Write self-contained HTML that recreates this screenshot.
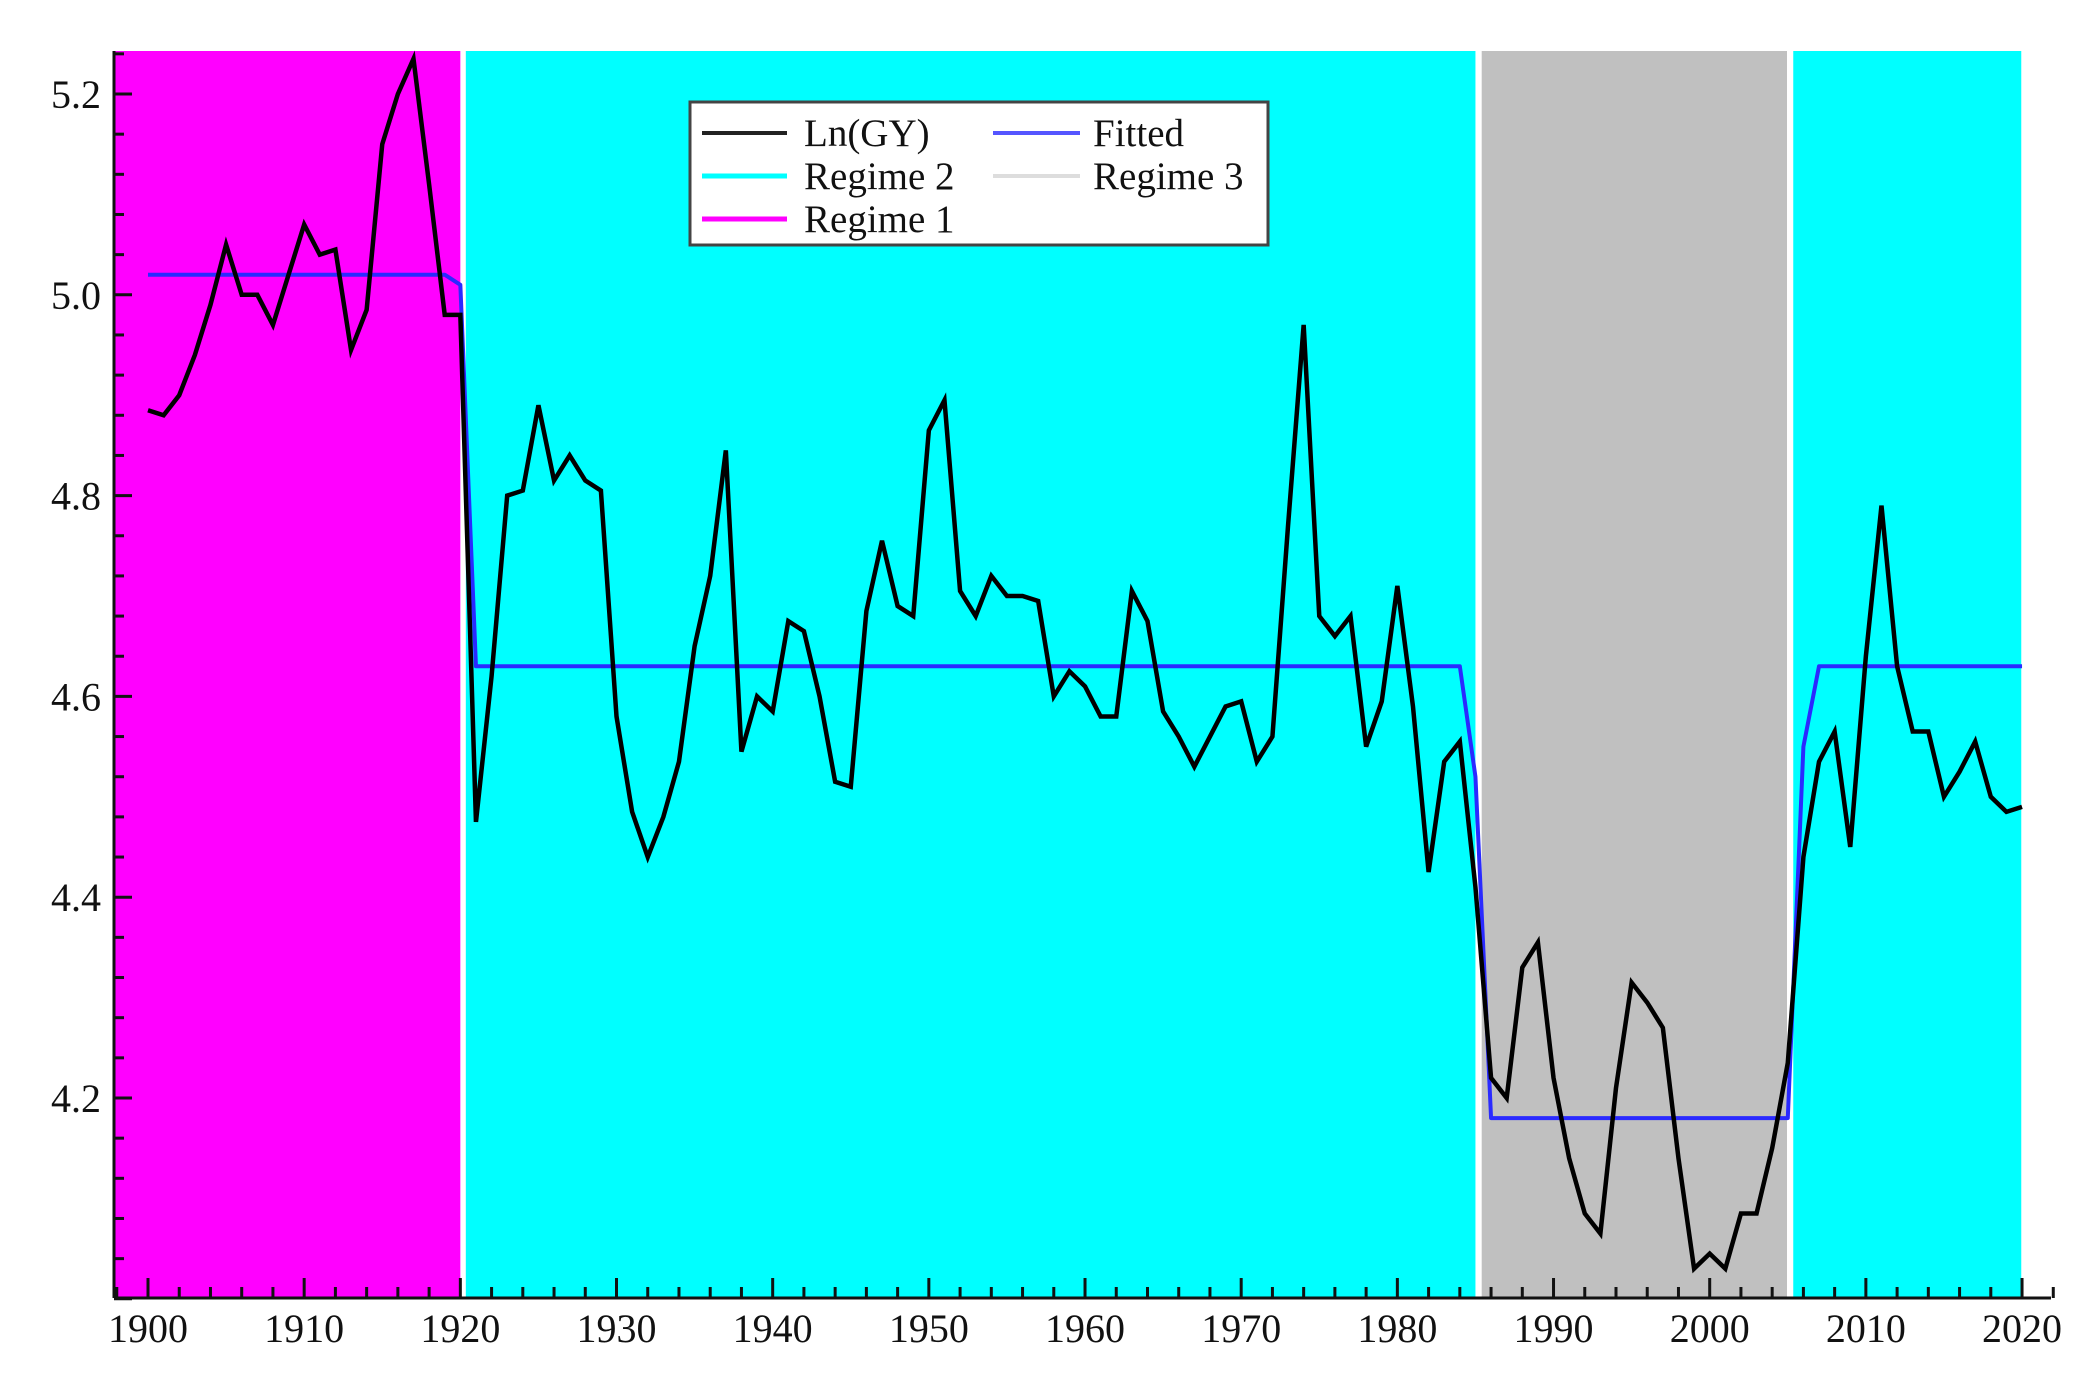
<!DOCTYPE html>
<html><head><meta charset="utf-8"><style>
html,body{margin:0;padding:0;background:#fff;}
svg{display:block;}
text{font-family:"Liberation Serif",serif;fill:#111;}
</style></head><body>
<svg id="chart" width="2098" height="1385" viewBox="0 0 2098 1385" xmlns="http://www.w3.org/2000/svg">
<g id="regions"></g>
<g id="axes"></g>
<g id="series"></g>
<g id="legend">
  <rect x="690" y="102" width="578" height="143" fill="#fff" stroke="#444" stroke-width="3"/>
  <line x1="702" y1="133" x2="787" y2="133" stroke="#222" stroke-width="4"/>
  <text x="804" y="146" font-size="39">Ln(GY)</text>
  <line x1="702" y1="176" x2="787" y2="176" stroke="#00ffff" stroke-width="5"/>
  <text x="804" y="189" font-size="39">Regime 2</text>
  <line x1="702" y1="219" x2="787" y2="219" stroke="#ff00ff" stroke-width="5"/>
  <text x="804" y="232" font-size="39">Regime 1</text>
  <line x1="993" y1="133" x2="1080" y2="133" stroke="#5555ff" stroke-width="4"/>
  <text x="1093" y="146" font-size="39">Fitted</text>
  <line x1="993" y1="176" x2="1080" y2="176" stroke="#dddddd" stroke-width="4"/>
  <text x="1093" y="189" font-size="39">Regime 3</text>
</g>
</svg>
<script>
const years = [];
for (let y = 1900; y <= 2020; y++) years.push(y);
const lngy = [4.885,4.88,4.90,4.94,4.99,5.05,5.00,5.00,4.97,5.02,5.07,5.04,5.045,4.945,4.985,5.15,5.20,5.235,5.11,4.98,
4.98,4.475,4.62,4.80,4.805,4.89,4.815,4.84,4.815,4.805,4.58,4.485,4.44,4.48,4.535,4.65,4.72,4.845,4.545,4.60,
4.585,4.675,4.665,4.60,4.515,4.51,4.685,4.755,4.69,4.68,4.865,4.895,4.705,4.68,4.72,4.70,4.70,4.695,4.60,4.625,
4.61,4.58,4.58,4.705,4.675,4.585,4.56,4.53,4.56,4.59,4.595,4.535,4.56,4.77,4.97,4.68,4.66,4.68,4.55,4.595,
4.71,4.59,4.425,4.535,4.555,4.41,4.22,4.20,4.33,4.355,4.22,4.14,4.085,4.065,4.21,4.315,4.295,4.27,4.14,4.03,
4.045,4.03,4.085,4.085,4.15,4.235,4.44,4.535,4.565,4.45,4.64,4.79,4.63,4.565,4.565,4.50,4.525,4.555,4.50,4.485,4.49];
const fitted = [5.02,5.02,5.02,5.02,5.02,5.02,5.02,5.02,5.02,5.02,5.02,5.02,5.02,5.02,5.02,5.02,5.02,5.02,5.02,5.02,
5.01,4.63,4.63,4.63,4.63,4.63,4.63,4.63,4.63,4.63,4.63,4.63,4.63,4.63,4.63,4.63,4.63,4.63,4.63,4.63,
4.63,4.63,4.63,4.63,4.63,4.63,4.63,4.63,4.63,4.63,4.63,4.63,4.63,4.63,4.63,4.63,4.63,4.63,4.63,4.63,
4.63,4.63,4.63,4.63,4.63,4.63,4.63,4.63,4.63,4.63,4.63,4.63,4.63,4.63,4.63,4.63,4.63,4.63,4.63,4.63,
4.63,4.63,4.63,4.63,4.63,4.52,4.18,4.18,4.18,4.18,4.18,4.18,4.18,4.18,4.18,4.18,4.18,4.18,4.18,4.18,
4.18,4.18,4.18,4.18,4.18,4.18,4.55,4.63,4.63,4.63,4.63,4.63,4.63,4.63,4.63,4.63,4.63,4.63,4.63,4.63,4.63];
const regimeStart = [1897.85, 1920.35, 1985.4, 2005.35];
const regimeEnd = [1920.0, 1985.0, 2004.95, 2019.95];
const regimeColor = ["#ff00ff","#00ffff","#c0c0c0","#00ffff"];
const regimeName = ["regime-1-band","regime-2-band","regime-3-band","regime-2-band-late"];
const yTicks = [4.2,4.4,4.6,4.8,5.0,5.2];
const yTickLabels = ["4.2","4.4","4.6","4.8","5.0","5.2"];
const xTicks = [1900,1910,1920,1930,1940,1950,1960,1970,1980,1990,2000,2010,2020];

const NS = "http://www.w3.org/2000/svg";
const L = 114, R = 2051, T = 51, B = 1298;
function xs(yr){ return 148 + (yr - 1900) * 15.617; }
function ys(v){ return 94 + (5.2 - v) * 1004; }
function mk(tag, attrs, parent){ const e = document.createElementNS(NS, tag); for (const k in attrs) e.setAttribute(k, attrs[k]); parent.appendChild(e); return e; }

const reg = document.getElementById('regions');
regimeStart.forEach((s,i)=>{
  const r = mk('rect',{x:xs(s),y:T,width:xs(regimeEnd[i])-xs(s),height:B-T,fill:regimeColor[i]},reg);
  
  
});

const ax = document.getElementById('axes');
let a = mk('line',{x1:L,y1:T,x2:L,y2:B,stroke:'#111','stroke-width':3},ax);


a = mk('line',{x1:L,y1:B,x2:R,y2:B,stroke:'#111','stroke-width':3},ax);


for (let k = 0; k <= 31; k++){
  const v = 4.0 + k*0.04; if (v > 5.245) break;
  const major = Math.abs((v*10)%2) < 0.01 || Math.abs((v*10)%2-2) < 0.01;
  const t = mk('line',{x1:L,y1:ys(v),x2:L+(major?18:10),y2:ys(v),stroke:'#111','stroke-width':3},ax);
  
  
}
yTicks.forEach((v,i)=>{
  const t = mk('text',{x:101,y:ys(v)+14,'text-anchor':'end','font-size':40},ax);
  t.textContent = yTickLabels[i];
  
  
});
for (let yr = 1898; yr <= 2022; yr += 2){
  const major = yr % 10 === 0;
  const t = mk('line',{x1:xs(yr),y1:B,x2:xs(yr),y2:B-(major?20:11),stroke:'#111','stroke-width':3},ax);
  
  
}
xTicks.forEach(yr=>{
  const t = mk('text',{x:xs(yr),y:1342,'text-anchor':'middle','font-size':40},ax);
  t.textContent = String(yr);
  
  
});

const se = document.getElementById('series');
let p = mk('polyline',{points:years.map((y,i)=>xs(y)+','+ys(fitted[i])).join(' '),fill:'none',stroke:'#2a2aff','stroke-width':4,'stroke-linejoin':'round'},se);


p = mk('polyline',{points:years.map((y,i)=>xs(y)+','+ys(lngy[i])).join(' '),fill:'none',stroke:'#000','stroke-width':4.5,'stroke-linejoin':'miter'},se);


</script>
</body></html>
